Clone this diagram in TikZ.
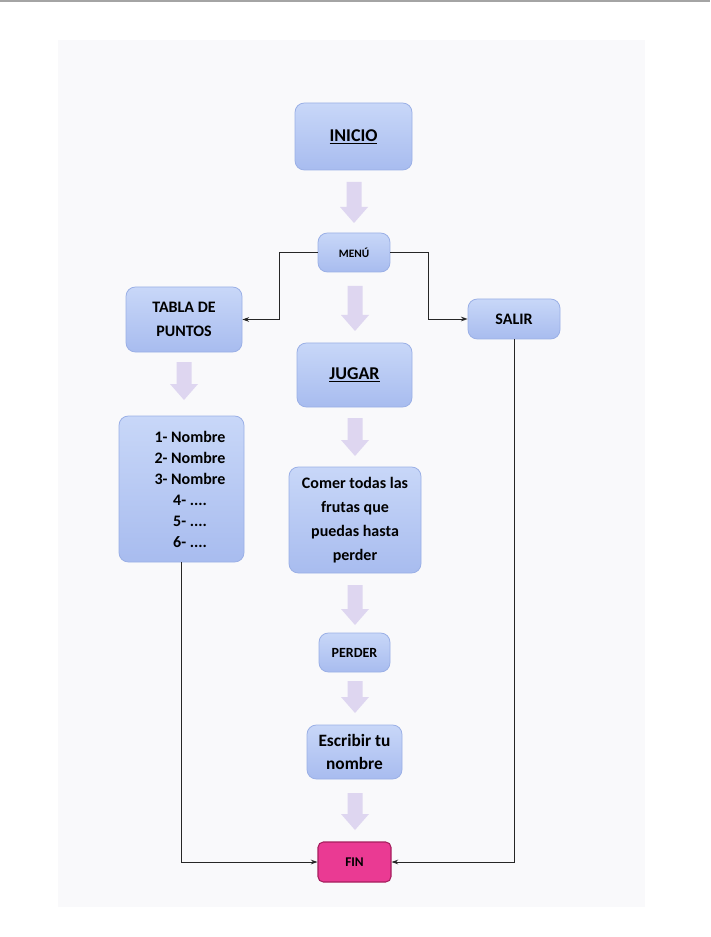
\documentclass[tikz,border=0pt]{standalone}
\usepackage{fontspec}
\setmainfont{Carlito}
\usetikzlibrary{arrows.meta}

\definecolor{boxtop}{HTML}{C8D7F8}
\definecolor{boxbot}{HTML}{A8BCEF}
\definecolor{boxedge}{HTML}{9BB0E6}
\definecolor{finfill}{HTML}{EA3A93}
\definecolor{finedge}{HTML}{A61E5E}
\definecolor{arrowfill}{HTML}{DED6F0}
\definecolor{paper}{HTML}{F9F9FB}
\definecolor{rimline}{HTML}{A4A4A4}

% wide lavender block arrow: centre x, top y, bottom y
\newcommand\fatarrow[3]{%
  \fill[arrowfill] ({#1-7.5},#2) -- ({#1+7.5},#2) -- ({#1+7.5},{#3-16})
    -- ({#1+14},{#3-16}) -- (#1,#3) -- ({#1-14},{#3-16}) -- ({#1-7.5},{#3-16}) -- cycle;}

\newcommand\fsz[2]{\fontsize{#1}{#2}\selectfont}

\begin{document}
\begin{tikzpicture}[x=0.75pt,y=-0.75pt,
  wh/.style 2 args={minimum width=#1*0.75pt, minimum height=#2*0.75pt},
  box/.style={rounded corners=7pt, top color=boxtop, bottom color=boxbot,
    draw=boxedge, line width=0.6pt, font=\bfseries, align=center, inner sep=0pt},
  finbox/.style={rounded corners=4pt, fill=finfill, draw=finedge,
    line width=0.8pt, font=\bfseries, align=center, inner sep=0pt},
  link/.style={draw=black!85, line width=0.7pt,
    -{Stealth[length=5pt,width=3.5pt]}},
]
% page
\useasboundingbox (0,0) rectangle (710,937);
\fill[white] (0,0) rectangle (710,937);
\fill[rimline] (0,0) rectangle (710,2);
\fill[paper] (58,40) rectangle (645,907);

% main column
\node[box, wh={117}{67}, font=\bfseries\fsz{13.5}{16}] (inicio) at (353.5,136.5) {\underline{INICIO}};
\node[box, wh={72}{39}, font=\bfseries\fsz{8.5}{10}] (menu) at (354,252.5) {MENÚ};
\node[box, wh={115}{64}, font=\bfseries\fsz{13.5}{16}] (jugar) at (354.5,375) {\underline{JUGAR}};
\node[box, wh={132}{106}, font=\bfseries\fsz{12}{18}] (comer) at (355,520)
  {Comer todas las\\frutas que\\puedas hasta\\perder};
\node[box, wh={71}{39}, font=\bfseries\fsz{10.5}{12}] (perder) at (354.5,652.5) {PERDER};
\node[box, wh={95}{54}, font=\bfseries\fsz{13}{17}] (escribir) at (354.5,752) {Escribir tu\\nombre};
\node[finbox, wh={73}{40}, font=\bfseries\fsz{10}{12}] (fin) at (354.5,862) {FIN};

% side branches
\node[box, wh={116}{65}, font=\bfseries\fsz{12}{18}] (tabla) at (184,319.5) {TABLA DE\\PUNTOS};
\node[box, wh={125}{146}] (nombres) at (181.5,489) {};
\node[font=\bfseries\fsz{12}{15.75}, align=center] (lista) at (190,489)
  {1- Nombre\\2- Nombre\\3- Nombre\\4- ....\\5- ....\\6- ....};
\node[box, wh={92}{40}, font=\bfseries\fsz{12}{14}] (salir) at (514,319) {SALIR};

% block arrows
\fatarrow{354}{182}{223}
\fatarrow{355}{286}{331}
\fatarrow{184}{362}{400}
\fatarrow{355}{418}{456}
\fatarrow{355}{585}{625}
\fatarrow{355}{681}{713}
\fatarrow{355}{793}{830}

% connectors
\draw[link] (menu.west) -- ++(-38,0) |- (tabla.east);
\draw[link] (menu.east) -- ++(38,0) |- (salir.west);
\draw[link] (nombres.south) |- (fin.west);
\draw[link] (salir.south) |- (fin.east);
\end{tikzpicture}
\end{document}
